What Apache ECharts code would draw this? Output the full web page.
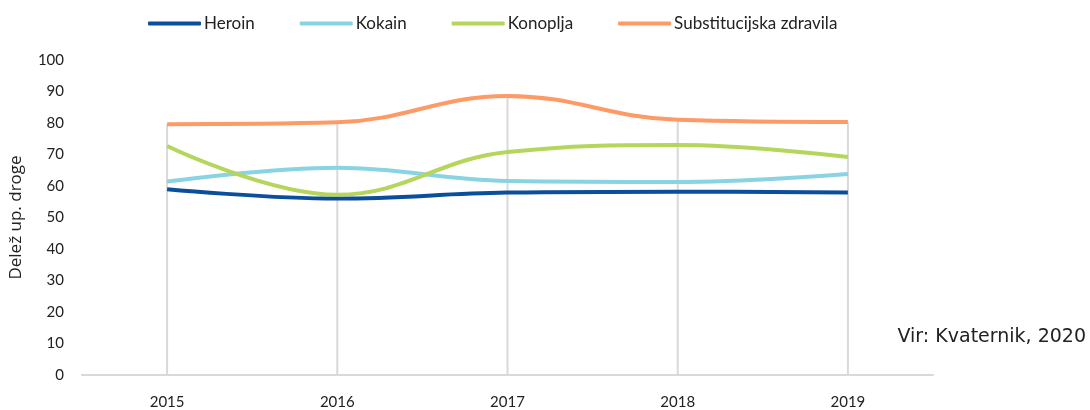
<!DOCTYPE html>
<html>
<head>
<meta charset="utf-8">
<script src="https://cdn.jsdelivr.net/npm/echarts@6/dist/echarts.min.js"></script>
<style>
  html, body { margin: 0; padding: 0; background: #fff; }
  #chart { width: 1090px; height: 410px; }
</style>
</head>
<body>
<div id="chart"></div>
<script>
// leta in deleži po drogah (odčitano s slike)
const years = ['2015', '2016', '2017', '2018', '2019'];
const heroin = [59, 56, 57.9, 58.2, 57.9];
const kokain = [61.4, 65.8, 61.6, 61.3, 63.8];
const konoplja = [72.7, 57.2, 70.8, 73, 69.2];
const substitucijska = [79.6, 80.2, 88.6, 81, 80.3];

// navpične črte do najvišje vrednosti (kot v Excelu)
const dropLines = years.map((y, i) => Math.max(heroin[i], kokain[i], konoplja[i], substitucijska[i]));

const font = 'Lato, "Open Sans", sans-serif';

const chart = echarts.init(document.getElementById('chart'));
chart.setOption({
  animation: false,
  textStyle: { fontFamily: font },
  legend: {
    top: 10,
    left: 143,
    data: ['Heroin', 'Kokain', 'Konoplja', 'Substitucijska zdravila'],
    icon: 'roundRect',
    itemWidth: 53,
    itemHeight: 4,
    itemGap: 45,
    textStyle: { fontSize: 17, color: '#222', padding: [0, 0, 0, -2], fontFamily: font }
  },
  grid: {
    left: 82,
    right: 157,
    top: 60,
    bottom: 32
  },
  xAxis: {
    type: 'category',
    data: years,
    boundaryGap: true,
    axisLine: { lineStyle: { color: '#d9d9d9', width: 2 } },
    axisTick: { show: false },
    axisLabel: { color: '#222', fontSize: 15, margin: 20 },
    splitLine: { show: false }
  },
  yAxis: {
    type: 'value',
    min: 0,
    max: 100,
    interval: 10,
    name: 'Delež up. droge',
    nameLocation: 'middle',
    nameGap: 57,
    nameTextStyle: { fontSize: 17, color: '#222', fontFamily: '"Open Sans", sans-serif' },
    axisLine: { show: false },
    axisTick: { show: false },
    splitLine: { show: false },
    axisLabel: { color: '#222', fontSize: 15, margin: 18 }
  },
  graphic: [{
    type: 'text',
    right: 4,
    top: 328,
    style: { text: 'Vir: Kvaternik, 2020', fill: '#222', font: '19px "DejaVu Sans", sans-serif' }
  }],
  series: [
    {
      name: 'drop',
      type: 'bar',
      data: dropLines,
      barWidth: 2,
      silent: true,
      z: 1,
      itemStyle: { color: '#d9d9d9' }
    },
    {
      name: 'Heroin',
      type: 'line',
      data: heroin,
      smooth: 0.4,
      showSymbol: false,
      z: 3,
      color: '#0b4f9c',
      lineStyle: { width: 4 }
    },
    {
      name: 'Kokain',
      type: 'line',
      data: kokain,
      smooth: 0.4,
      showSymbol: false,
      z: 3,
      color: '#8ad3e3',
      lineStyle: { width: 4 }
    },
    {
      name: 'Konoplja',
      type: 'line',
      data: konoplja,
      smooth: 0.4,
      showSymbol: false,
      z: 3,
      color: '#b5d55c',
      lineStyle: { width: 4 }
    },
    {
      name: 'Substitucijska zdravila',
      type: 'line',
      data: substitucijska,
      smooth: 0.4,
      showSymbol: false,
      z: 3,
      color: '#fd9a66',
      lineStyle: { width: 4 }
    }
  ]
});
</script>
</body>
</html>
